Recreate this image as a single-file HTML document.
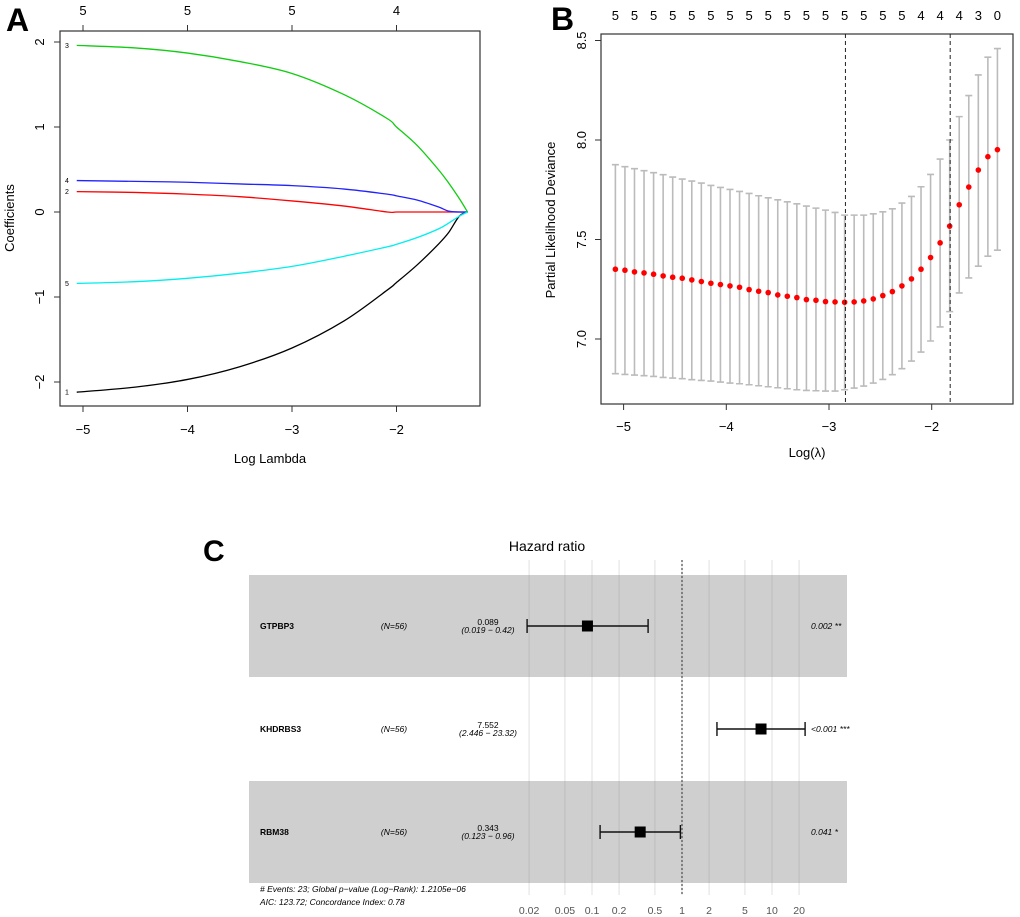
<!DOCTYPE html>
<html><head><meta charset="utf-8"><style>
html,body{margin:0;padding:0;background:#fff;}
svg{display:block;font-family:"Liberation Sans",Arial,sans-serif;}
</style></head><body>
<svg id="svg" width="1020" height="917" viewBox="0 0 1020 917" xmlns="http://www.w3.org/2000/svg">
<g id="pa"></g>
<g id="pb"></g>
<g id="pc"></g>
</svg>
<script>
// ---------- Panel A data ----------
const aLogLambda = [-5.06,-4.5,-4,-3.5,-3,-2.5,-2.09,-2,-1.8,-1.6,-1.5,-1.4,-1.32];
const aCoef1 = [-2.12,-2.06,-1.97,-1.82,-1.6,-1.28,-0.92,-0.83,-0.62,-0.38,-0.24,-0.05,0];
const aCoef2 = [0.24,0.23,0.21,0.18,0.13,0.07,0.0,0,0,0,0,0,0];
const aCoef3 = [1.96,1.93,1.87,1.77,1.63,1.38,1.1,1.0,0.78,0.5,0.34,0.16,0];
const aCoef4 = [0.37,0.36,0.35,0.33,0.31,0.27,0.21,0.19,0.14,0.06,0.01,0,0];
const aCoef5 = [-0.84,-0.82,-0.78,-0.72,-0.64,-0.52,-0.41,-0.38,-0.3,-0.2,-0.13,-0.05,0];
const aXTicks = [-5,-4,-3,-2];
const aYTicks = [-2,-1,0,1,2];
const aTopLabels = ["5","5","5","4"];
// ---------- Panel B data ----------
const bMeanY = [807,810,815,818,822,827,831,834,839,844,849,853,857,861,868,873,877,884,888,892,898,900,904,905,906,905,902,896,886,874,857,836,807,772,728,678,614,561,510,470,449];
const bUpperY = [494,500,506,512,518,524,531,537,543,549,556,562,568,574,580,587,593,599,605,611,618,624,630,637,645,645,645,641,635,626,609,589,560,523,477,420,350,287,225,172,146];
const bLowerY = [1120,1122,1124,1126,1128,1131,1133,1135,1138,1140,1142,1145,1148,1150,1153,1156,1159,1162,1165,1168,1170,1171,1172,1172,1168,1163,1157,1148,1137,1123,1105,1082,1055,1022,980,934,878,833,798,768,750];
const bLogLambdaStart = -5.08, bLogLambdaEnd = -1.36;
const bNonzero = ["5","5","5","5","5","5","5","5","5","5","5","5","5","5","5","5","4","4","4","3","0"];
const bVLines = [-2.84,-1.82];
const bXTicks = [-5,-4,-3,-2];
const bYTicks = [7.0,7.5,8.0,8.5];
// ---------- Panel C data ----------
const cGenes = ["GTPBP3","KHDRBS3","RBM38"];
const cHR = [0.089,7.552,0.343];
const cLow = [0.019,2.446,0.123];
const cHigh = [0.42,23.32,0.96];
const cHRText = ["0.089","7.552","0.343"];
const cCIText = ["(0.019 \u2212  0.42)","(2.446 \u2212 23.32)","(0.123 \u2212  0.96)"];
const cPText = ["0.002 **","<0.001 ***","0.041 *"];
const cTicks = [0.02,0.05,0.1,0.2,0.5,1,2,5,10,20];
const cTickLabels = ["0.02","0.05","0.1","0.2","0.5","1","2","5","10","20"];

const NS="http://www.w3.org/2000/svg";
function mk(parent,tag,attrs,text){const e=document.createElementNS(NS,tag);for(const k in attrs)e.setAttribute(k,attrs[k]);if(text!==undefined)e.textContent=text;parent.appendChild(e);return e;}
function smooth(P){let d=`M${P[0][0]},${P[0][1]}`;for(let i=0;i<P.length-1;i++){const p0=P[Math.max(0,i-1)],p1=P[i],p2=P[i+1],p3=P[Math.min(P.length-1,i+2)];const c1=[p1[0]+(p2[0]-p0[0])/6,p1[1]+(p2[1]-p0[1])/6],c2=[p2[0]-(p3[0]-p1[0])/6,p2[1]-(p3[1]-p1[1])/6];d+=`C${c1[0]},${c1[1]} ${c2[0]},${c2[1]} ${p2[0]},${p2[1]}`;}return d;}

// ===== Panel A =====
(function(){
const g=document.getElementById('pa');
const X=v=>292+(v+3)*104.5, Y=v=>212-v*85;
let t=mk(g,'text',{x:6,y:31,'font-size':32,'font-weight':'bold'},'A');

let r=mk(g,'rect',{x:60,y:31,width:420,height:375,fill:'none',stroke:'#333','stroke-width':1.2});

aXTicks.forEach((v,i)=>{
 mk(g,'line',{x1:X(v),x2:X(v),y1:406,y2:412,stroke:'#333'});
 let l=mk(g,'text',{x:X(v),y:434,'font-size':13,'text-anchor':'middle'},(v<0?'\u2212':'')+Math.abs(v));
 
 mk(g,'line',{x1:X(v),x2:X(v),y1:31,y2:25,stroke:'#333'});
 let tl=mk(g,'text',{x:X(v),y:15,'font-size':13,'text-anchor':'middle'},aTopLabels[i]);
 
});
aYTicks.forEach(v=>{
 mk(g,'line',{x1:54,x2:60,y1:Y(v),y2:Y(v),stroke:'#333'});
 let l=mk(g,'text',{x:0,y:0,'font-size':13,'text-anchor':'middle',transform:`translate(44,${Y(v)}) rotate(-90)`},(v<0?'\u2212':'')+Math.abs(v));
 
});
let xt=mk(g,'text',{x:270,y:463,'font-size':13,'text-anchor':'middle'},'Log Lambda');

let yt=mk(g,'text',{x:0,y:0,'font-size':13,'text-anchor':'middle',transform:'translate(14,218) rotate(-90)'},'Coefficients');

const series=[[aCoef1,'#000','1'],[aCoef2,'#f00','2'],[aCoef3,'#1c1','3'],[aCoef4,'#22f','4'],[aCoef5,'#0ee','5']];
series.forEach(([d,c,lab])=>{
 let P=d.map((v,i)=>[X(aLogLambda[i]),Y(v)]);
 let p=mk(g,'path',{d:smooth(P),fill:'none',stroke:c,'stroke-width':1.3});
 
 let l=mk(g,'text',{x:67,y:Y(d[0])+2.5,'font-size':7,'text-anchor':'middle'},lab);
 
});
})();

// ===== Panel B =====
(function(){
const g=document.getElementById('pb');
const X=v=>829+(v+3)*102.7, Y=v=>140-(v-8)*199;
const zy=z=>8.0-(z-420)/596;
let t=mk(g,'text',{x:551,y:30,'font-size':32,'font-weight':'bold'},'B');

let r=mk(g,'rect',{x:601,y:34,width:412,height:370,fill:'none',stroke:'#333','stroke-width':1.2});

bXTicks.forEach(v=>{
 mk(g,'line',{x1:X(v),x2:X(v),y1:404,y2:410,stroke:'#333'});
 let l=mk(g,'text',{x:X(v),y:431,'font-size':13,'text-anchor':'middle'},'\u2212'+Math.abs(v));
 
});
bYTicks.forEach(v=>{
 mk(g,'line',{x1:595,x2:601,y1:Y(v),y2:Y(v),stroke:'#333'});
 let l=mk(g,'text',{x:0,y:0,'font-size':13,'text-anchor':'middle',transform:`translate(586,${Y(v)}) rotate(-90)`},v.toFixed(1));
 
});
let xt=mk(g,'text',{x:807,y:457,'font-size':13,'text-anchor':'middle'},'Log(\u03bb)');

let yt=mk(g,'text',{x:0,y:0,'font-size':13,'text-anchor':'middle',transform:'translate(555,220) rotate(-90)'},'Partial Likelihood Deviance');

const n=bMeanY.length, step=(bLogLambdaEnd-bLogLambdaStart)/(n-1);
for(let i=0;i<n;i++){
 const x=X(bLogLambdaStart+i*step);
 const yu=Y(zy(bUpperY[i])), yl=Y(zy(bLowerY[i])), ym=Y(zy(bMeanY[i]));
 let b=mk(g,'path',{d:`M${x},${yu}V${yl}M${x-3.5},${yu}H${x+3.5}M${x-3.5},${yl}H${x+3.5}`,stroke:'#bbb','stroke-width':1.6,fill:'none'});
 
 let c=mk(g,'circle',{cx:x,cy:ym,r:2.8,fill:'#f00'});
 
 if(i%2===0){
  let l=mk(g,'text',{x:x,y:20,'font-size':13,'text-anchor':'middle'},bNonzero[i/2]);
  
 }
}
bVLines.forEach(v=>{
 let l=mk(g,'line',{x1:X(v),x2:X(v),y1:34,y2:404,stroke:'#222','stroke-dasharray':'4,3','stroke-width':1});
 
});
})();

// ===== Panel C =====
(function(){
const g=document.getElementById('pc');
const X=v=>682+Math.log10(v)*90;
const rowY=[626,729,832];
let t=mk(g,'text',{x:203,y:561,'font-size':30,'font-weight':'bold'},'C');

let tt=mk(g,'text',{x:547,y:551,'font-size':14,'text-anchor':'middle'},'Hazard ratio');

[0,2].forEach(i=>{
 let r=mk(g,'rect',{x:249,y:rowY[i]-51,width:598,height:102,fill:'#cfcfcf'});
 
});
cTicks.forEach((v,i)=>{
 let l=mk(g,'line',{x1:X(v),x2:X(v),y1:560,y2:895,stroke:'#888','stroke-opacity':0.25,'stroke-width':1});
 
 let tl=mk(g,'text',{x:X(v),y:914,'font-size':10.5,'text-anchor':'middle',fill:'#555'},cTickLabels[i]);
 
});
let ref=mk(g,'line',{x1:X(1),x2:X(1),y1:560,y2:895,stroke:'#555','stroke-dasharray':'2,2','stroke-width':1.3});

cGenes.forEach((gn,i)=>{
 const y=rowY[i];
 let a=mk(g,'text',{x:260,y:y+3,'font-size':8.5,'font-weight':'bold'},gn);
 
 let b=mk(g,'text',{x:394,y:y+3,'font-size':8.5,'font-style':'italic','text-anchor':'middle'},'(N=56)');
 
 let c=mk(g,'text',{x:488,y:y-1,'font-size':8.5,'text-anchor':'middle'},cHRText[i]);
 
 let d=mk(g,'text',{x:488,y:y+7,'font-size':8.5,'font-style':'italic','text-anchor':'middle'},cCIText[i]);
 
 let e=mk(g,'text',{x:811,y:y+3,'font-size':8.5,'font-style':'italic'},cPText[i]);
 
 const x1=X(cLow[i]),x2=X(cHigh[i]);
 let w=mk(g,'path',{d:`M${x1},${y}H${x2}M${x1},${y-7}V${y+7}M${x2},${y-7}V${y+7}`,stroke:'#111','stroke-width':1.4,fill:'none'});
 
 let s=mk(g,'rect',{x:X(cHR[i])-5.5,y:y-5.5,width:11,height:11,fill:'#000'});
 
});
let f1=mk(g,'text',{x:260,y:892,'font-size':8.5,'font-style':'italic'},'# Events: 23; Global p\u2212value (Log\u2212Rank): 1.2105e\u221206');

let f2=mk(g,'text',{x:260,y:905,'font-size':8.5,'font-style':'italic'},'AIC: 123.72; Concordance Index: 0.78');

})();
</script>
</body></html>
